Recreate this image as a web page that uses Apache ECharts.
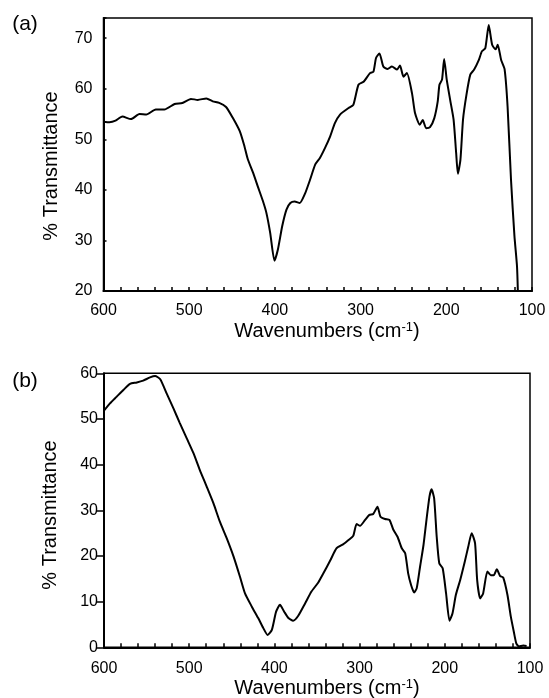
<!DOCTYPE html>
<html>
<head>
<meta charset="utf-8">
<script src="https://cdn.jsdelivr.net/npm/echarts@6/dist/echarts.min.js"></script>
<style>html,body{margin:0;padding:0;background:#fff}#c{width:549px;height:698px}</style>
</head>
<body>
<div id="c"></div>
<script>
// Panel (a): wavenumber (cm-1) and % transmittance
var wnA = [600,593,586,578,568,558,550,539,529,517,508,498,490,480,472.5,465,457,449,441,435.5,431.5,425.5,420,414,410,405.5,400.5,396.5,391.5,386.5,382,377,371,365,359,353,347.5,341.5,335.5,330,324,314,308.5,302.5,296.5,289,285,282,278,273.5,268.5,263.5,257.5,254,250,246,240,236.5,231,227.5,223.5,219,214,210,208,205,202.5,199.5,195.5,191.5,188.5,186.5,183.5,180.5,176.5,172,167.5,162,158.5,154.5,150.5,146.5,142.5,140,136,132,128.5,124.5,120.5,117.5,116.5];
var tA  = [53.5,53.4,53.7,54.5,54.0,55.0,54.9,55.9,55.9,57.0,57.2,58.0,57.8,58.1,57.5,57.2,56.4,54.2,51.6,48.6,46.0,43.4,40.7,37.8,35.5,31.5,26.0,28.2,32.8,36.1,37.4,37.7,37.4,39.2,42.0,45.0,46.3,48.3,50.6,53.2,54.9,56.2,56.8,60.8,61.4,63.1,63.4,66.1,67.0,64.4,63.9,64.4,63.8,64.6,62.4,63.1,59.1,55.2,52.9,53.8,52.2,52.4,54.2,57.5,60.8,61.8,65.9,61.8,57.8,53.9,47.3,43.2,46.0,53.9,58.8,62.8,63.8,65.7,67.4,68.0,72.6,68.7,67.8,68.7,65.7,63.9,56.5,42.0,30.9,24.9,20.0];
// Panel (b)
var wnB = [600,593,585,577,569.5,561.5,554,546,540,534,526.5,518.5,511,503,495,487.5,479.5,471.5,464,456,448,440.5,434.5,426.5,419,413,408,403,398,393.5,388.5,383.5,378,372,364,356.5,348.5,342.5,334.5,327,319,313,307.5,303.5,299.5,293.5,288.5,284,279,275.5,270,265,260.5,255.5,250.5,246.5,243,239.5,236,233,229,225,221.5,218,215.5,212.5,209.5,206.5,202.5,198.5,194.5,191,187,182,176.5,172.5,168.5,164.5,162,158.5,155,150,146,142.5,139,135,131.5,126.5,122.5,119,116,113,108,104];
var tB  = [51.8,53.4,54.9,56.4,57.7,58.0,58.4,59.1,59.4,58.7,55.6,52.3,49.1,45.8,42.5,38.8,35.2,31.5,27.5,23.9,19.9,15.5,11.8,8.9,6.4,4.2,2.7,3.8,7.8,9.3,7.8,6.4,5.8,6.9,9.6,12.2,14.2,16.2,19.0,21.7,22.6,23.5,24.4,27.0,26.6,27.9,29.0,29.2,30.8,28.6,28.1,27.9,25.8,24.2,21.7,20.6,16.2,13.6,12.0,12.9,17.7,22.4,27.9,33.0,34.6,32.6,24.2,18.4,17.3,11.8,5.8,7.4,11.5,14.7,18.8,22.0,25.0,22.8,14.7,10.7,11.8,16.6,15.8,15.8,17.1,15.6,15.3,11.5,6.7,3.4,0.8,0.2,0.4,0.3];
var xTickLabels = ['600','500','400','300','200','100'];
var yTicksA = [20,30,40,50,60,70];
var yTicksB = [0,10,20,30,40,50,60];

function pairs(xs, ys){ return xs.map(function(x,i){ return [x, ys[i]]; }); }

var FONT = 'Liberation Sans, Arial, sans-serif';
var chart = echarts.init(document.getElementById('c'), null, {renderer:'canvas'});

function xAxisCfg(gi, margin){
  return {
    gridIndex: gi, type:'value', min:100, max:600, interval:20, inverse:true,
    axisLine:{show:true, onZero:false, lineStyle:{color:'#000', width:2}},
    axisTick:{show:true, inside:true, length:4, lineStyle:{color:'#000', width:1.5}},
    axisLabel:{margin:margin, color:'#000', fontSize:16, fontFamily:FONT,
      formatter:function(v){ var s = String(v); return xTickLabels.indexOf(s) >= 0 ? s : ''; }},
    splitLine:{show:false}
  };
}
function yAxisCfg(gi, mn, mx, ticks, inside, tlen, margin){
  return {
    gridIndex: gi, type:'value', min:mn, max:mx, interval:10,
    axisLine:{show:true, lineStyle:{color:'#000', width:2}},
    axisTick:{show:true, inside:inside, length:tlen, lineStyle:{color:'#000', width:1.5}},
    axisLabel:{margin:margin, color:'#000', fontSize:16, fontFamily:FONT,
      formatter:function(v){ return ticks.indexOf(v) >= 0 ? String(v) : ''; }},
    splitLine:{show:false}
  };
}

var option = {
  backgroundColor:'#fff',
  animation:false,
  grid:[
    {left:103.5, right:17, top:18, height:273, show:true, borderColor:'#000', borderWidth:1.5, backgroundColor:'transparent'},
    {left:104, right:19, top:373.3, height:274, show:true, borderColor:'#000', borderWidth:1.5, backgroundColor:'transparent'}
  ],
  xAxis:[ xAxisCfg(0, 12), xAxisCfg(1, 13) ],
  yAxis:[ yAxisCfg(0, 20, 74, yTicksA, true, 3, 11), yAxisCfg(1, 0, 60, yTicksB, false, 7, 6) ],
  series:[
    {type:'line', xAxisIndex:0, yAxisIndex:0, data:pairs(wnA,tA), showSymbol:false, smooth:0.2,
     lineStyle:{color:'#000', width:2}, clip:true},
    {type:'line', xAxisIndex:1, yAxisIndex:1, data:pairs(wnB,tB), showSymbol:false, smooth:0.2,
     lineStyle:{color:'#000', width:2}, clip:true}
  ],
  graphic:[
    {type:'text', x:25, y:24, style:{text:'(a)', fontSize:21, fontFamily:FONT, fill:'#000', align:'center', verticalAlign:'middle'}},
    {type:'text', x:25, y:381, style:{text:'(b)', fontSize:21, fontFamily:FONT, fill:'#000', align:'center', verticalAlign:'middle'}},
    {type:'text', x:51, y:166, rotation:Math.PI/2, style:{text:'% Transmittance', fontSize:20, fontFamily:FONT, fill:'#000', align:'center', verticalAlign:'middle'}},
    {type:'text', x:50, y:515, rotation:Math.PI/2, style:{text:'% Transmittance', fontSize:20, fontFamily:FONT, fill:'#000', align:'center', verticalAlign:'middle'}},
    {type:'text', x:327, y:331, style:{text:'Wavenumbers (cm{sup|-1})', fontSize:20, fontFamily:FONT, fill:'#000', align:'center', verticalAlign:'middle',
      rich:{sup:{fontSize:13, fontFamily:FONT, fill:'#000', verticalAlign:'top', padding:[0,0,8,0]}}}},
    {type:'text', x:327, y:688, style:{text:'Wavenumbers (cm{sup|-1})', fontSize:20, fontFamily:FONT, fill:'#000', align:'center', verticalAlign:'middle',
      rich:{sup:{fontSize:13, fontFamily:FONT, fill:'#000', verticalAlign:'top', padding:[0,0,8,0]}}}}
  ]
};
chart.setOption(option);
</script>
</body>
</html>
